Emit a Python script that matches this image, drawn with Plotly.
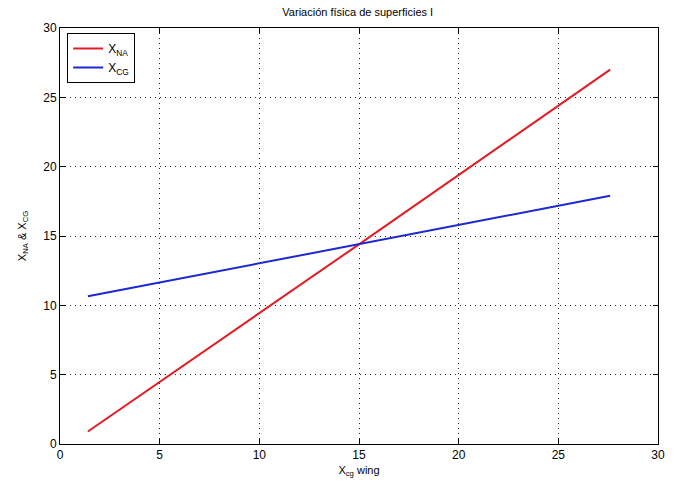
import plotly.graph_objects as go

# Wing CG position (x axis) and the resulting neutral point / aircraft CG
x_cg_wing = [1.4, 15.0, 27.6]
x_na = [0.9, 14.4, 27.0]
x_cg = [10.65, 14.4, 17.9]

axis_ticks = [0, 5, 10, 15, 20, 25, 30]

fig = go.Figure()
fig.add_trace(go.Scatter(x=x_cg_wing, y=x_na, mode="lines", name="X<sub>NA</sub>",
                         line=dict(color="#e01c24", width=2)))
fig.add_trace(go.Scatter(x=x_cg_wing, y=x_cg, mode="lines", name="X<sub>CG</sub>",
                         line=dict(color="#1c28d0", width=2)))

axis_common = dict(
    range=[0, 30], tickvals=axis_ticks, showgrid=True, gridcolor="#222222",
    griddash="1px,4px", gridwidth=1, showline=True, linecolor="black", linewidth=1,
    mirror="ticks", ticks="inside", ticklen=5, tickcolor="black",
    zeroline=False, tickfont=dict(size=12, color="black"),
)

fig.update_layout(
    width=675, height=484,
    margin=dict(l=60, r=10, t=28, b=39),
    paper_bgcolor="white", plot_bgcolor="white",
    font=dict(family="Liberation Sans, Arial, sans-serif", size=11, color="black"),
    title=dict(text="Variación física de superficies I", x=0.53, xanchor="center",
               y=0.975, yanchor="middle", font=dict(size=11)),
    xaxis=dict(axis_common, title=dict(text="X<sub>cg</sub> wing", standoff=4,
                                       font=dict(size=11))),
    yaxis=dict(axis_common, title=dict(text="X<sub>NA</sub> & X<sub>CG</sub>", standoff=14,
                                       font=dict(size=11))),
    legend=dict(x=0.012, y=0.988, xanchor="left", yanchor="top",
                bordercolor="black", borderwidth=1, bgcolor="white",
                font=dict(size=12), tracegroupgap=0),
    showlegend=True,
)

fig.write_html("out.html")
